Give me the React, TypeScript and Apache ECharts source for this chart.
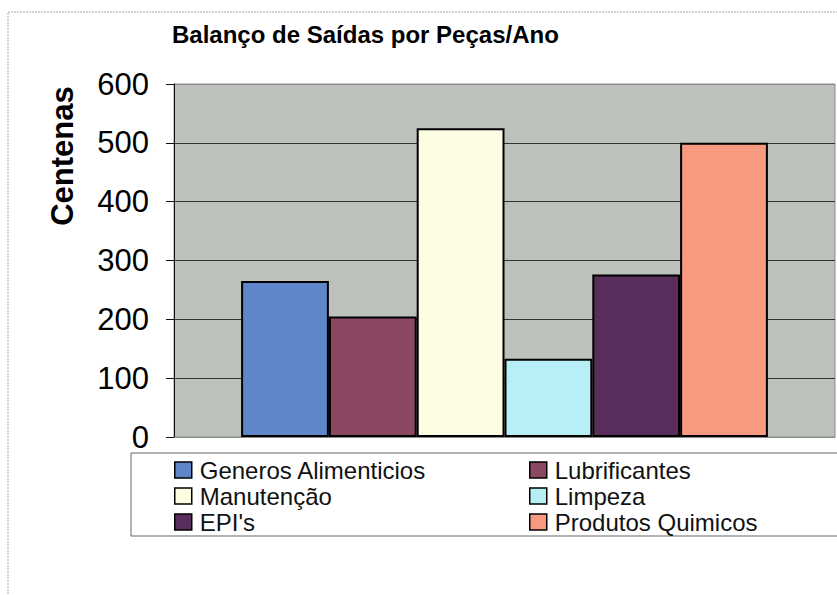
import React, { useEffect, useRef } from "react";
import * as echarts from "echarts";

const titleText = "Balanço de Saídas por Peças/Ano";
const yAxisName = "Centenas";
const seriesNames = [
  "Generos Alimenticios",
  "Lubrificantes",
  "Manutenção",
  "Limpeza",
  "EPI's",
  "Produtos Quimicos",
];
const seriesValues = [265, 205, 525, 133, 276, 500];
const seriesColors = ["#5f86c8", "#8a4862", "#fdfde3", "#b8eef5", "#5a2e5c", "#f79a80"];
const legendLeftCol = ["Generos Alimenticios", "Manutenção", "EPI's"];
const legendRightCol = ["Lubrificantes", "Limpeza", "Produtos Quimicos"];

const FONT = "'Liberation Sans', Arial, sans-serif";

export default function App() {
  const ref = useRef<HTMLDivElement>(null);
  useEffect(() => {
    if (!ref.current) return;
    const chart = echarts.init(ref.current, null, { renderer: "svg" });
    const legendCommon = {
      orient: "vertical",
      top: 457,
      itemWidth: 17,
      itemHeight: 16,
      itemGap: 0,
      icon: "rect",
      padding: 0,
      itemStyle: { borderColor: "#000", borderWidth: 1.5 },
      textStyle: { fontSize: 24, lineHeight: 26, color: "#111", fontFamily: FONT, padding: [0, 0, 0, 3] },
    };
    chart.setOption({
      animation: false,
      backgroundColor: "#fff",
      title: {
        text: titleText,
        left: 172,
        top: 22,
        padding: 0,
        textStyle: { fontSize: 24, fontWeight: "bold", color: "#000", fontFamily: FONT },
      },
      grid: {
        left: 174,
        top: 84,
        right: 2,
        bottom: 158,
        show: true,
        backgroundColor: "#bcc1bc",
        borderColor: "#8a8a8a",
        borderWidth: 1,
        containLabel: false,
      },
      xAxis: {
        type: "category",
        data: [""],
        axisLine: { show: true, lineStyle: { color: "#8a8a8a", width: 1 } },
        axisTick: { show: false },
        axisLabel: { show: false },
      },
      yAxis: {
        type: "value",
        min: 0,
        max: 600,
        interval: 100,
        axisLine: { show: true, lineStyle: { color: "#111", width: 1 } },
        axisTick: { show: true, length: 8, lineStyle: { color: "#111" } },
        axisLabel: { fontSize: 31, color: "#000", fontFamily: FONT, margin: 25 },
        splitLine: {
          show: true,
          lineStyle: {
            color: ["#8a8a8a", "#333", "#333", "#333", "#333", "#333", "#8a8a8a"],
            width: 1,
          },
        },
      },
      legend: [
        { ...legendCommon, left: 174, data: legendLeftCol },
        { ...legendCommon, left: 529, data: legendRightCol },
      ],
      series: seriesNames.map((name, i) => ({
        name,
        type: "bar",
        data: [seriesValues[i]],
        barGap: "0%",
        barCategoryGap: "20.3%",
        itemStyle: { color: seriesColors[i], borderColor: "#000", borderWidth: 2 },
      })),
      graphic: [
        {
          type: "rect",
          shape: { x: 8, y: 12, width: 840, height: 600 },
          style: { fill: "none", stroke: "#a8a8a8", lineWidth: 1, lineDash: [2, 1] },
          silent: true,
        },
        {
          type: "rect",
          shape: { x: 131, y: 453, width: 720, height: 83 },
          style: { fill: "none", stroke: "#666", lineWidth: 1 },
          silent: true,
        },
        {
          type: "text",
          x: 62,
          y: 156,
          rotation: Math.PI / 2,
          style: {
            text: yAxisName,
            fontSize: 31,
            fontWeight: "bold",
            fontFamily: FONT,
            fill: "#000",
            textAlign: "center",
            textVerticalAlign: "middle",
          },
        },
      ],
    });
    return () => chart.dispose();
  }, []);
  return (
    <div
      ref={ref}
      style={{ position: "fixed", left: 0, top: 0, width: 837, height: 595 }}
    />
  );
}
